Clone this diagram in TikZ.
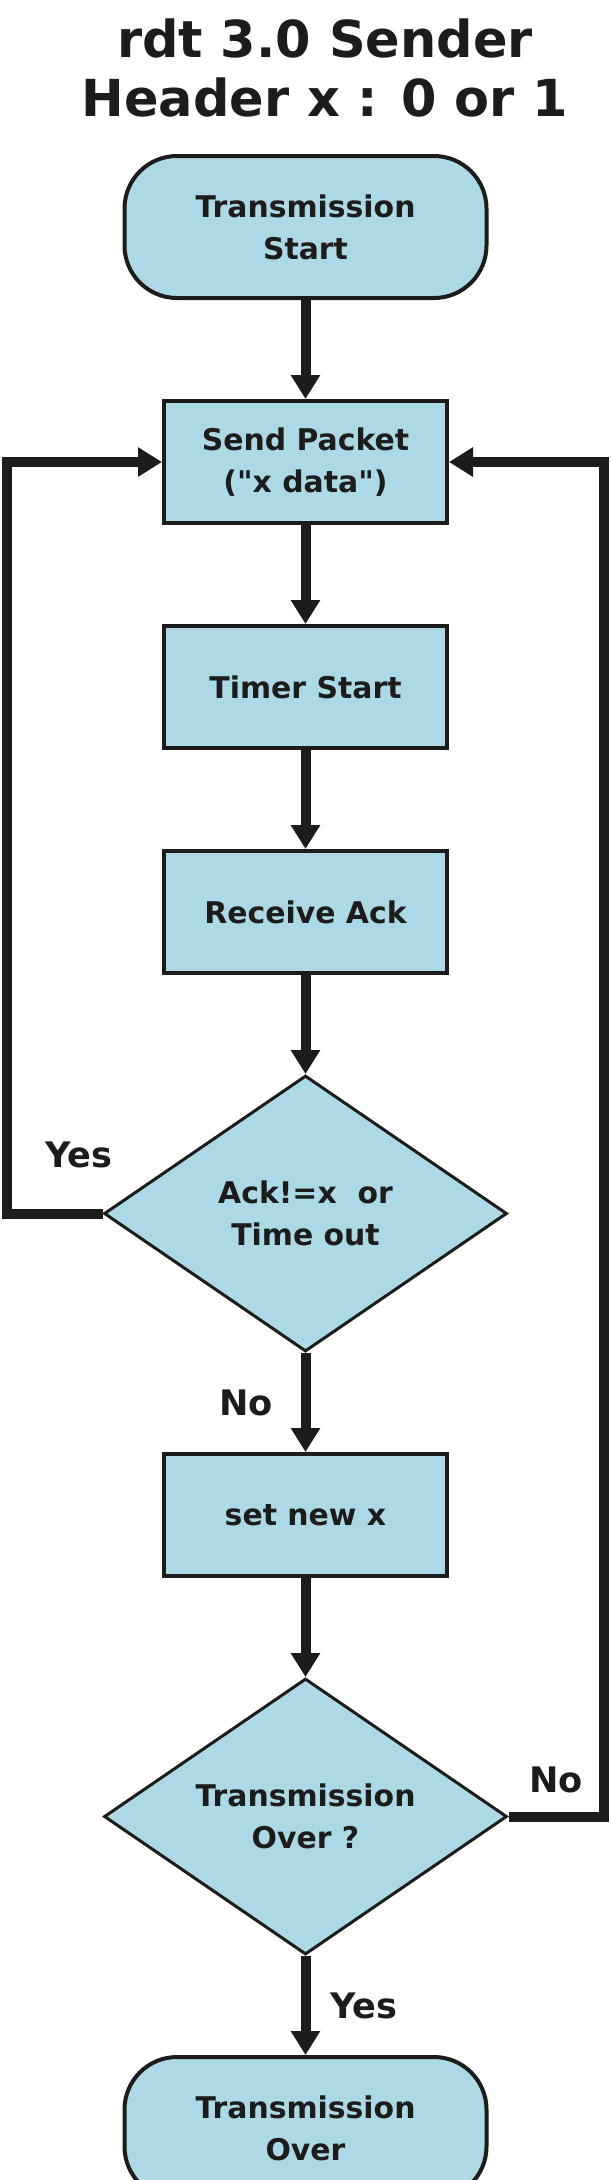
\documentclass[tikz,border=0pt]{standalone}
\usepackage{fontspec}
\setmainfont{DejaVu Sans}
\usetikzlibrary{positioning,shapes.geometric,arrows.meta}
\definecolor{boxblue}{RGB}{173,216,230}
\definecolor{ink}{RGB}{28,28,28}
\begin{document}
\begin{tikzpicture}[node distance=1.98cm,
  every node/.style={text=ink,inner sep=0pt},
  terminal/.style={draw=ink,fill=boxblue,line width=0.08cm,rounded corners=1.05cm,
    minimum width=7.24cm,minimum height=2.84cm,align=center,font=\fontsize{17}{24}\selectfont\bfseries},
  process/.style={draw=ink,fill=boxblue,line width=0.08cm,
    minimum width=5.66cm,minimum height=2.44cm,align=center,font=\fontsize{17}{24}\selectfont\bfseries},
  decision/.style={draw=ink,fill=boxblue,line width=0.06cm,diamond,aspect=1.46,
    minimum width=8.06cm,minimum height=5.52cm,align=center,font=\fontsize{17}{24}\selectfont\bfseries},
  flow/.style={draw=ink,line width=0.2cm,line join=miter,-{Triangle[width=0.56cm,length=0.48cm]}},
  lbl/.style={font=\fontsize{20}{24}\selectfont\bfseries}]
\useasboundingbox (0,0) rectangle (12.22,-43.6);
\node[font=\fontsize{29}{34}\selectfont\bfseries,align=center] (title) at (6.5,-1.36) {rdt 3.0 Sender\\Header x : 0 or 1};
\node[terminal] (start) at (6.11,-4.54) {Transmission\\Start};
\node[process,below=of start] (send) {Send Packet\\(\textquotedbl x data\textquotedbl)};
\node[process,below=of send] (timer) {Timer Start};
\node[process,below=of timer] (recv) {Receive Ack};
\node[decision,below=of recv] (check) {Ack!=x~~or\\Time out};
\node[process,below=of check] (setx) {set new x};
\node[decision,below=of setx] (over) {Transmission\\Over ?};
\node[terminal,below=of over] (stop) {Transmission\\Over};
\coordinate (lrail) at (0.13,0);
\coordinate (rrail) at (12.08,0);
% main line
\draw[flow] (start) -- (send);
\draw[flow] (send) -- (timer);
\draw[flow] (timer) -- (recv);
\draw[flow] (recv) -- (check);
\draw[flow] (check) -- node[lbl,left=0.55cm] {No} (setx);
\draw[flow] (setx) -- (over);
\draw[flow] (over) -- node[lbl,right=0.4cm] {Yes} (stop);
% loops back to send
\draw[flow] (check.west) -- node[lbl,pos=0.25,above=0.82cm] {Yes} (check.west -| lrail) |- (send.west);
\draw[flow] (over.east) -- node[lbl,above=0.38cm] {No} (over.east -| rrail) |- (send.east);
\end{tikzpicture}
\end{document}
